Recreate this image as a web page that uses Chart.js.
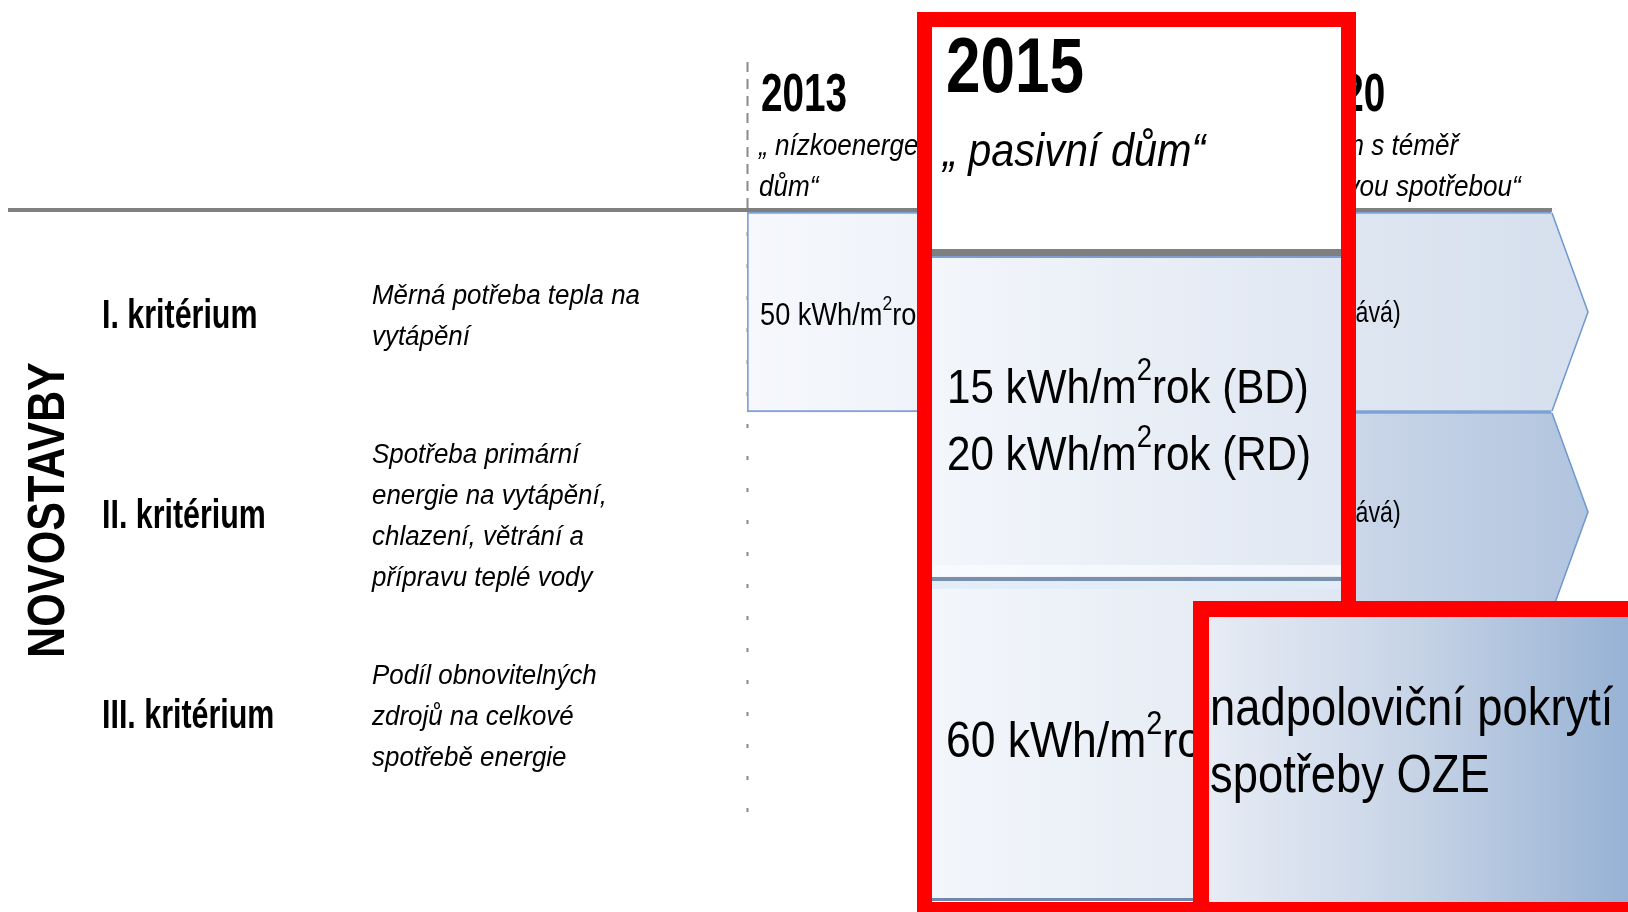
<!DOCTYPE html>
<html>
<head>
<meta charset="utf-8">
<script src="https://cdn.jsdelivr.net/npm/chart.js@4/dist/chart.umd.min.js"></script>
<style>
html,body{margin:0;padding:0;background:#fff;overflow:hidden}
canvas{display:block}
</style>
</head>
<body>
<canvas id="c" width="1628" height="912"></canvas>
<script>
// ---------- DATA ----------
const years = ['2013', '2015', '2020'];
const yearValues = [2013, 2015, 2020];
const standards = [['„ nízkoenergetický', 'dům“'], ['„ pasivní dům“'], ['„ dům s téměř', 'nulovou spotřebou“']];
const criteria = ['I. kritérium', 'II. kritérium', 'III. kritérium'];
const criteriaText = [
  ['Měrná potřeba tepla na', 'vytápění'],
  ['Spotřeba primární', 'energie na vytápění,', 'chlazení, větrání a', 'přípravu teplé vody'],
  ['Podíl obnovitelných', 'zdrojů na celkové', 'spotřebě energie']
];
const bandFrom = [2013, 2020, 2020];          // year from which each criterion band is drawn
const req2013 = [['50 kWh/m²rok'], [], []];
const req2015 = [['15 kWh/m²rok (BD)', '20 kWh/m²rok (RD)'], ['60 kWh/m²rok'], []];
const req2020 = [['(zůstává)'], ['(zůstává)'], ['nadpoloviční pokrytí', 'spotřeby OZE']];
const sectionLabel = 'NOVOSTAVBY';
const highlightYear = 1;                      // index into years (2015 zoomed panel)
const highlightCriterion = 2;                 // OZE zoomed panel (criterion III, 2020)

// ---------- DRAWING HELPERS ----------
const AXIS_END = 2023.47;
const FONT = '"Liberation Sans", Arial, Helvetica, sans-serif';

function drawRich(ctx, s, x, y, o) {
  ctx.save();
  ctx.translate(x, y);
  ctx.scale(o.sx || 1, 1);
  ctx.fillStyle = o.color || '#000';
  ctx.textBaseline = 'alphabetic';
  ctx.textAlign = 'left';
  const f = sz => `${o.style || 'normal'} normal ${o.weight || 'normal'} ${sz}px ${FONT}`;
  let cx = 0;
  s.split('²').forEach((part, i) => {
    if (i > 0) {
      ctx.font = f(o.size * 0.65);
      ctx.fillText('2', cx, -o.size * 0.46);
      cx += ctx.measureText('2').width;
    }
    ctx.font = f(o.size);
    ctx.fillText(part, cx, 0);
    cx += ctx.measureText(part).width;
  });
  ctx.restore();
}

let gradCache = {};
function rowFill(chart, i) {
  const a = chart.chartArea;
  if (!a) return '#e8eef6';
  const key = i + ':' + a.left + ':' + a.right;
  if (gradCache[key]) return gradCache[key];
  const g = chart.ctx.createLinearGradient(a.left, 0, a.right + 36, 0);
  if (i === 0) {
    g.addColorStop(0, '#f6f8fc');
    g.addColorStop(1, '#d5dfed');
  } else {
    g.addColorStop(0, '#eef2f8');
    g.addColorStop(0.72, '#cbd7e9');
    g.addColorStop(1, '#b1c4de');
  }
  gradCache[key] = g;
  return g;
}

function line(ctx, x1, y1, x2, y2) {
  ctx.beginPath(); ctx.moveTo(x1, y1); ctx.lineTo(x2, y2); ctx.stroke();
}

const ZOOM = { left: 917, top: 12, right: 1356, bottom: 917, frame: 15 };
const OZE = { left: 1193, top: 601, right: 1670, bottom: 917, frame: 16 };
const RED = '#ff0000';

const diagram = {
  id: 'diagram',
  beforeDatasetsDraw(chart) {
    const { ctx, chartArea: a, scales: { x } } = chart;
    yearValues.forEach((yv, i) => {
      if (i === highlightYear) return;
      const px = Math.round(x.getPixelForValue(yv)) + 0.5;
      ctx.save();
      ctx.strokeStyle = '#8a8a8a';
      ctx.lineWidth = 2;
      ctx.setLineDash([10, 7]);
      line(ctx, px, 62, px, a.top);
      ctx.setLineDash([4, 28]);
      ctx.lineDashOffset = -20;
      line(ctx, px, a.top, px, a.bottom);
      ctx.restore();
    });
  },
  afterDatasetsDraw(chart) {
    const { ctx, chartArea: a, scales: { x, y } } = chart;
    const meta = chart.getDatasetMeta(0);

    // chevron tips of the criterion bands
    meta.data.forEach((bar, i) => {
      const p = bar.getProps(['x', 'y', 'height'], true);
      const top = p.y - p.height / 2, bot = p.y + p.height / 2;
      ctx.save();
      ctx.beginPath();
      ctx.moveTo(p.x - 1, top);
      ctx.lineTo(p.x, top);
      ctx.lineTo(p.x + 36, p.y);
      ctx.lineTo(p.x, bot);
      ctx.lineTo(p.x - 1, bot);
      ctx.closePath();
      ctx.fillStyle = rowFill(chart, i);
      ctx.fill();
      ctx.strokeStyle = '#6f97d0';
      ctx.lineWidth = 1.5;
      ctx.beginPath();
      ctx.moveTo(p.x, top + 1);
      ctx.lineTo(p.x + 36, p.y);
      ctx.lineTo(p.x, bot - 1);
      ctx.stroke();
      ctx.restore();
    });

    // top grey rule
    ctx.fillStyle = '#808080';
    ctx.fillRect(8, a.top - 4, x.getPixelForValue(AXIS_END) - 8, 4);

    // section label (rotated)
    ctx.save();
    ctx.translate(64, (a.top + a.bottom) / 2 - 2);
    ctx.rotate(-Math.PI / 2);
    ctx.scale(0.83, 1);
    ctx.font = `bold 52px ${FONT}`;
    ctx.textAlign = 'center';
    ctx.textBaseline = 'alphabetic';
    ctx.fillStyle = '#000';
    ctx.fillText(sectionLabel, 0, 0);
    ctx.restore();

    // criteria and their descriptions
    criteria.forEach((c, i) => {
      const cy = y.getPixelForValue(i);
      drawRich(ctx, c, 102, cy + 16, { size: 40, weight: 'bold', sx: 0.76 });
      const lines = criteriaText[i];
      const first = cy - (lines.length - 1) * 41 / 2 + 12.5;
      lines.forEach((l, k) => drawRich(ctx, l, 372, first + k * 41, { size: 27, style: 'italic', sx: 0.96 }));
    });

    // year headers (non highlighted)
    years.forEach((yr, i) => {
      if (i === highlightYear) return;
      const px = x.getPixelForValue(yearValues[i]) + 14;
      drawRich(ctx, yr, px, 111, { size: 53, weight: 'bold', sx: 0.73 });
      standards[i].forEach((l, k) => drawRich(ctx, l, px - 2, 155 + k * 41, { size: 30, style: 'italic', sx: 0.87 }));
    });

    // values 2013 and 2020 in the bands
    criteria.forEach((c, i) => {
      const cy = y.getPixelForValue(i);
      req2013[i].forEach(l => drawRich(ctx, l, x.getPixelForValue(2013) + 13, cy + 13, { size: 32, sx: 0.85 }));
      if (i !== highlightCriterion) {
        req2020[i].forEach(l => drawRich(ctx, l, x.getPixelForValue(2020) + 20, cy + 10, { size: 29, sx: 0.8 }));
      }
    });

    // ---------- zoomed 2015 panel ----------
    const Z = ZOOM, il = Z.left + Z.frame, ir = Z.right - Z.frame;
    ctx.fillStyle = '#ffffff';
    ctx.fillRect(Z.left, Z.top, Z.right - Z.left, Z.bottom - Z.top);
    ctx.fillStyle = '#7f7f7f';
    ctx.fillRect(il, 249, ir - il, 7);
    ctx.fillStyle = '#7d9ecf';
    ctx.fillRect(il, 256, ir - il, 2);
    const pg = ctx.createLinearGradient(il, 0, ir, 0);
    pg.addColorStop(0, '#f3f6fb');
    pg.addColorStop(1, '#e0e7f2');
    ctx.fillStyle = pg;
    ctx.fillRect(il, 258, ir - il, 319);
    ctx.fillRect(il, 581, ir - il, 317);
    ctx.fillStyle = 'rgba(250,252,255,0.7)';
    ctx.fillRect(il, 565, ir - il, 11);
    ctx.fillStyle = '#7990ab';
    ctx.fillRect(il, 577, ir - il, 4);
    ctx.fillStyle = 'rgba(225,236,248,0.9)';
    ctx.fillRect(il, 581, ir - il, 8);
    ctx.fillStyle = '#6f89ad';
    ctx.fillRect(il, 898, ir - il, 3);

    drawRich(ctx, years[highlightYear], 946, 92, { size: 77, weight: 'bold', sx: 0.806 });
    standards[highlightYear].forEach((l, k) => drawRich(ctx, l, 943, 166 + k * 40, { size: 46, style: 'italic', sx: 0.9 }));
    req2015[0].forEach((l, k) => drawRich(ctx, l, 947, 403 + k * 67, { size: 49, sx: 0.86 }));
    req2015[1].forEach((l, k) => drawRich(ctx, l, 946, 757 + k * 67, { size: 50, sx: 0.89 }));

    ctx.fillStyle = RED;
    ctx.fillRect(Z.left, Z.top, Z.right - Z.left, Z.frame);
    ctx.fillRect(Z.left, Z.top, Z.frame, Z.bottom - Z.top);
    ctx.fillRect(Z.right - Z.frame, Z.top, Z.frame, Z.bottom - Z.top);
    ctx.fillRect(Z.left, 902, Z.right - Z.left, Z.frame);

    // ---------- zoomed OZE panel ----------
    const O = OZE, ol = O.left + O.frame, ot = O.top + O.frame;
    const og = ctx.createLinearGradient(ol, 0, 1628, 0);
    og.addColorStop(0, '#e7ecf5');
    og.addColorStop(0.5, '#c6d3e6');
    og.addColorStop(1, '#97b2d4');
    ctx.fillStyle = og;
    ctx.fillRect(ol, ot, O.right - ol, 902 - ot);
    req2020[highlightCriterion].forEach((l, k) => drawRich(ctx, l, 1210, 725 + k * 67, { size: 54, sx: 0.84 }));
    ctx.fillStyle = RED;
    ctx.fillRect(O.left, O.top, O.right - O.left, O.frame);
    ctx.fillRect(O.left, O.top, O.frame, O.bottom - O.top);
    ctx.fillRect(O.left, 902, O.right - O.left, O.frame);
  }
};

// ---------- CHART ----------
new Chart(document.getElementById('c'), {
  type: 'bar',
  data: {
    labels: criteria,
    datasets: [{
      label: 'platnost požadavku',
      data: bandFrom.map(v => [v, AXIS_END]),
      backgroundColor: ctx => rowFill(ctx.chart, ctx.dataIndex),
      borderColor: '#7ea2d6',
      borderWidth: 2,
      borderSkipped: 'right',
      barPercentage: 1,
      categoryPercentage: 1
    }]
  },
  options: {
    indexAxis: 'y',
    responsive: false,
    animation: false,
    devicePixelRatio: 1,
    layout: { padding: { left: 747, right: 76, top: 212, bottom: 100 } },
    scales: {
      x: { type: 'linear', min: 2013, max: AXIS_END, display: false },
      y: { type: 'category', display: false, offset: true }
    },
    plugins: { legend: { display: false }, tooltip: { enabled: false } }
  },
  plugins: [diagram]
});
</script>
</body>
</html>
